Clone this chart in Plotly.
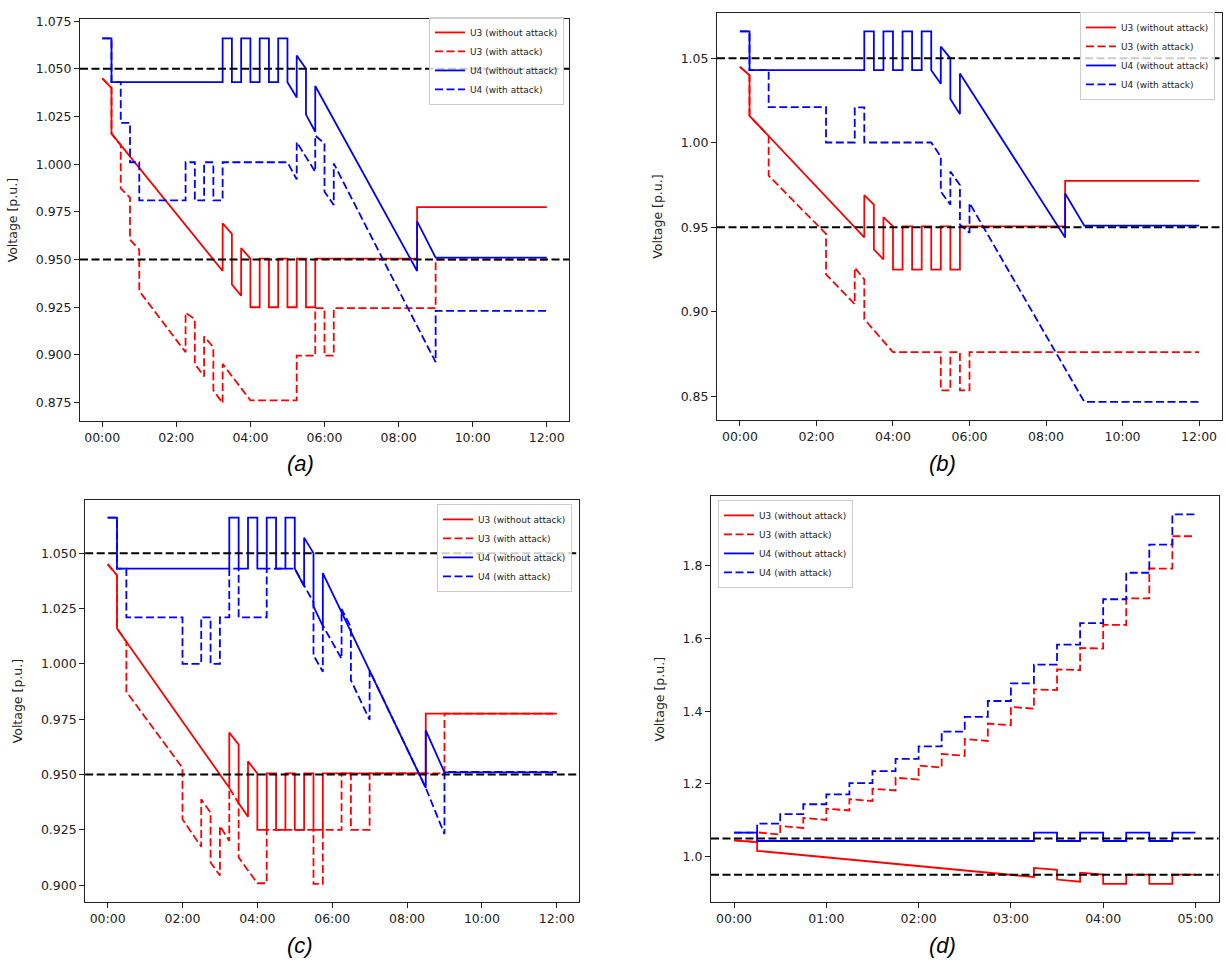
import plotly.graph_objects as go

# ---------------- data (time in hours since 00:00, voltage in p.u.) ----------------
# Without attack (same in panels a, b, c; panel d shows the first 5 h)
U3_base_t = [0, 0.25, 0.25, 3.25, 3.25, 3.5, 3.5, 3.75, 3.75, 4.0, 4.0, 4.25, 4.25, 4.5, 4.5,
             4.75, 4.75, 5.0, 5.0, 5.25, 5.25, 5.5, 5.5, 5.75, 5.75, 8.5, 8.5, 12]
U3_base_v = [1.045, 1.040, 1.016, 0.944, 0.969, 0.9635, 0.937, 0.931, 0.956, 0.9505, 0.925, 0.925,
             0.9505, 0.9505, 0.925, 0.925, 0.9505, 0.9505, 0.925, 0.925, 0.9505, 0.9505, 0.925, 0.925,
             0.9505, 0.9505, 0.9775, 0.9775]
U4_base_t = [0, 0.25, 0.25, 3.25, 3.25, 3.5, 3.5, 3.75, 3.75, 4.0, 4.0, 4.25, 4.25, 4.5, 4.5,
             4.75, 4.75, 5.0, 5.0, 5.25, 5.25, 5.5, 5.5, 5.75, 5.75, 8.5, 8.5, 9.0, 12]
U4_base_v = [1.066, 1.066, 1.043, 1.043, 1.066, 1.066, 1.043, 1.043, 1.066, 1.066, 1.043, 1.043,
             1.066, 1.066, 1.043, 1.043, 1.066, 1.066, 1.043, 1.035, 1.057, 1.050, 1.026, 1.017,
             1.041, 0.944, 0.970, 0.951, 0.951]

# Panel (a) with attack
U3_a_t = [0, 0.25, 0.25, 0.5, 0.5, 0.75, 0.75, 1.0, 1.0, 2.25, 2.25, 2.5, 2.5, 2.75, 2.75, 3.0, 3.0,
          3.25, 3.25, 4.0, 5.25, 5.25, 5.75, 5.75, 6.0, 6.0, 6.25, 6.25, 9.0, 9.0, 12]
U3_a_v = [1.045, 1.040, 1.016, 1.010, 0.9873, 0.9825, 0.9604, 0.9552, 0.9335, 0.9014, 0.9222, 0.9187,
          0.8953, 0.8887, 0.9097, 0.904, 0.8814, 0.8748, 0.8953, 0.8762, 0.8762, 0.8996, 0.8996,
          0.9245, 0.9245, 0.8996, 0.8996, 0.9245, 0.9245, 0.950, 0.950]
U4_a_t = [0, 0.25, 0.25, 0.5, 0.5, 0.75, 0.75, 1.0, 1.0, 2.25, 2.25, 2.5, 2.5, 2.75, 2.75, 3.0, 3.0,
          3.25, 3.25, 5.0, 5.25, 5.25, 5.75, 5.75, 6.0, 6.0, 6.25, 6.25, 9.0, 9.0, 12]
U4_a_v = [1.066, 1.066, 1.043, 1.043, 1.0217, 1.0217, 1.001, 1.001, 0.981, 0.981, 1.001, 1.001, 0.981,
          0.981, 1.001, 1.001, 0.981, 0.981, 1.001, 1.001, 0.992, 1.0116, 0.996, 1.015, 1.0108, 0.9856,
          0.9786, 1.0004, 0.8962, 0.9231, 0.9231]

# Panel (b) with attack
U3_b_t = [0, 0.25, 0.25, 0.75, 0.75, 2.25, 2.25, 3.0, 3.0, 3.25, 3.25, 4.0, 5.25, 5.25, 5.5, 5.5,
          5.75, 5.75, 6.0, 6.0, 12]
U3_b_v = [1.045, 1.040, 1.016, 1.004, 0.9806, 0.9461, 0.9222, 0.9045, 0.9261, 0.9192, 0.8957, 0.8761,
          0.8761, 0.8535, 0.8535, 0.8761, 0.8761, 0.8535, 0.8535, 0.8761, 0.8761]
U4_b_t = [0, 0.25, 0.25, 0.75, 0.75, 2.25, 2.25, 3.0, 3.0, 3.25, 3.25, 5.0, 5.25, 5.25, 5.5, 5.5,
          5.75, 5.75, 6.0, 6.0, 9.0, 12]
U4_b_v = [1.066, 1.066, 1.043, 1.043, 1.0212, 1.0212, 1.0002, 1.0002, 1.021, 1.021, 1.0002, 1.0002,
          0.9918, 0.9712, 0.9634, 0.983, 0.975, 0.9516, 0.9467, 0.9644, 0.8467, 0.8467]

# Panel (c) with attack
U3_c_t = [0, 0.25, 0.25, 0.5, 0.5, 2.0, 2.0, 2.5, 2.5, 2.75, 2.75, 3.0, 3.0, 3.25, 3.25, 3.5, 3.5,
          4.0, 4.25, 4.25, 5.5, 5.5, 5.75, 5.75, 6.25, 6.25, 6.5, 6.5, 7.0, 7.0, 9.0, 9.0, 12]
U3_c_v = [1.045, 1.040, 1.016, 1.010, 0.9874, 0.953, 0.9298, 0.9174, 0.9388, 0.9328, 0.9103, 0.9044,
          0.9268, 0.920, 0.944, 0.937, 0.9126, 0.9009, 0.9009, 0.925, 0.925, 0.9006, 0.9006, 0.925,
          0.925, 0.9505, 0.9505, 0.925, 0.925, 0.9505, 0.9505, 0.9775, 0.9775]
U4_c_t = [0, 0.25, 0.25, 0.5, 0.5, 2.0, 2.0, 2.5, 2.5, 2.75, 2.75, 3.0, 3.0, 3.25, 3.25, 3.5, 3.5,
          4.25, 4.25, 5.0, 5.5, 5.5, 5.75, 5.75, 6.25, 6.25, 6.5, 6.5, 7.0, 7.0, 8.5, 9.0, 9.0, 12]
U4_c_v = [1.066, 1.066, 1.043, 1.043, 1.021, 1.021, 1.000, 1.000, 1.021, 1.021, 1.000, 1.000, 1.021,
          1.021, 1.043, 1.043, 1.021, 1.021, 1.043, 1.043, 1.0278, 1.0039, 0.9964, 1.0173, 1.0023,
          1.0248, 1.0166, 0.9926, 0.9747, 0.997, 0.944, 0.9231, 0.9512, 0.9512]

# Panel (d) with attack: 15-min steps from 00:00 to 05:00
step_t = [0, 0.25, 0.5, 0.75, 1.0, 1.25, 1.5, 1.75, 2.0, 2.25, 2.5, 2.75, 3.0, 3.25, 3.5, 3.75,
          4.0, 4.25, 4.5, 4.75, 5.0]
U3_d_start = [1.045, 1.0667, 1.084, 1.1066, 1.132, 1.158, 1.187, 1.217, 1.2505, 1.2825, 1.3235,
              1.366, 1.4117, 1.460, 1.5147, 1.5738, 1.6377, 1.7104, 1.7923, 1.881]
U3_d_end = [1.040, 1.061, 1.079, 1.101, 1.127, 1.153, 1.182, 1.212, 1.245, 1.277, 1.318,
            1.361, 1.407, 1.458, 1.513, 1.572, 1.637, 1.710, 1.792, 1.881]
U4_d_step = [1.066, 1.091, 1.1167, 1.144, 1.171, 1.202, 1.235, 1.269, 1.303, 1.344, 1.3844,
             1.428, 1.4765, 1.528, 1.583, 1.642, 1.7077, 1.7806, 1.858, 1.941]

# limits and tick labels
V_MAX = 1.05
V_MIN = 0.95
ticks_12h = [0, 2, 4, 6, 8, 10, 12]
labels_12h = ["00:00", "02:00", "04:00", "06:00", "08:00", "10:00", "12:00"]
ticks_5h = [0, 1, 2, 3, 4, 5]
labels_5h = ["00:00", "01:00", "02:00", "03:00", "04:00", "05:00"]
names = ["U3 (without attack)", "U3 (with attack)", "U4 (without attack)", "U4 (with attack)"]
panel_labels = ["(a)", "(b)", "(c)", "(d)"]


def upto(ts, vs, tmax):
    ot, ov = [], []
    for t, v in zip(ts, vs):
        if t > tmax:
            break
        ot.append(t)
        ov.append(v)
        if t == tmax:
            break
    return ot, ov


def steps(bounds, starts, ends):
    ot, ov = [], []
    for i in range(len(starts)):
        ot += [bounds[i], bounds[i + 1]]
        ov += [starts[i], ends[i]]
    return ot, ov


W, H = 1227, 965
RED = "#ff0000"
BLUE = "#0000ff"
DASH = "8px,3.5px"
FONT = "DejaVu Sans"

fig = go.Figure()

u3b_d = upto(U3_base_t, U3_base_v, 5.0)
u4b_d = upto(U4_base_t, U4_base_v, 5.0)
u3a_d = steps(step_t, U3_d_start, U3_d_end)
u4a_d = steps(step_t, U4_d_step, U4_d_step)

panels = [
    ("x", "y", "legend", [(U3_base_t, U3_base_v), (U3_a_t, U3_a_v), (U4_base_t, U4_base_v), (U4_a_t, U4_a_v)]),
    ("x2", "y2", "legend2", [(U3_base_t, U3_base_v), (U3_b_t, U3_b_v), (U4_base_t, U4_base_v), (U4_b_t, U4_b_v)]),
    ("x3", "y3", "legend3", [(U3_base_t, U3_base_v), (U3_c_t, U3_c_v), (U4_base_t, U4_base_v), (U4_c_t, U4_c_v)]),
    ("x4", "y4", "legend4", [u3b_d, u3a_d, u4b_d, u4a_d]),
]
styles = [(RED, "solid"), (RED, DASH), (BLUE, "solid"), (BLUE, DASH)]

for xa, ya, lg, series in panels:
    for (ts, vs), (col, dash), nm in zip(series, styles, names):
        fig.add_trace(go.Scatter(x=ts, y=vs, mode="lines", name=nm, xaxis=xa, yaxis=ya, legend=lg,
                                 line=dict(color=col, width=1.8, dash=dash)))

# axes geometry (pixels -> paper)
def px_x(a, b):
    return [a / W, b / W]

def px_y(top, bottom):
    return [1 - bottom / H, 1 - top / H]

axis_common = dict(showline=True, linecolor="#222", linewidth=1, mirror=True, ticks="outside",
                   ticklen=5, tickwidth=1, tickcolor="#222", showgrid=False, zeroline=False,
                   tickfont=dict(family=FONT, size=12.5, color="#222"))
ytitle = dict(text="Voltage [p.u.]", font=dict(family=FONT, size=12.5, color="#222"))

fig.update_layout(
    xaxis=dict(domain=px_x(80, 569), range=[-0.6, 12.6], tickvals=ticks_12h, ticktext=labels_12h,
               anchor="y", **axis_common),
    yaxis=dict(domain=px_y(13.3, 417.7), range=[0.8653, 1.0760], tick0=0.875, dtick=0.025,
               tickformat=".3f", anchor="x", title=ytitle, **axis_common),
    xaxis2=dict(domain=px_x(717, 1222), range=[-0.6, 12.6], tickvals=ticks_12h, ticktext=labels_12h,
                anchor="y2", **axis_common),
    yaxis2=dict(domain=px_y(6.8, 417), range=[0.8357, 1.077], tick0=0.85, dtick=0.05,
                tickformat=".2f", anchor="x2", title=ytitle, **axis_common),
    xaxis3=dict(domain=px_x(85.2, 579.2), range=[-0.6, 12.6], tickvals=ticks_12h, ticktext=labels_12h,
                anchor="y3", **axis_common),
    yaxis3=dict(domain=px_y(497.3, 901.7), range=[0.8924, 1.0739], tick0=0.9, dtick=0.025,
                tickformat=".3f", anchor="x3", title=ytitle, **axis_common),
    xaxis4=dict(domain=px_x(711, 1218.5), range=[-0.25, 5.25], tickvals=ticks_5h, ticktext=labels_5h,
                anchor="y4", **axis_common),
    yaxis4=dict(domain=px_y(493.3, 901.7), range=[0.875, 1.991], tick0=1.0, dtick=0.2,
                tickformat=".1f", anchor="x4", title=ytitle, **axis_common),
)

# reference limits
shapes = []
for xa, ya in [("x", "y"), ("x2", "y2"), ("x3", "y3"), ("x4", "y4")]:
    for lim in (V_MAX, V_MIN):
        shapes.append(dict(type="line", xref=xa + " domain", yref=ya, x0=0, x1=1, y0=lim, y1=lim,
                           line=dict(color="black", width=2, dash=DASH), layer="above"))

legend_common = dict(bgcolor="rgba(255,255,255,0.8)", bordercolor="#cccccc", borderwidth=1,
                     font=dict(family=FONT, size=9, color="#222"), tracegroupgap=0, itemwidth=30)

annotations = []
for lab, (ax, ay) in zip(panel_labels, [(300, 460), (942, 460), (300, 945), (942, 945)]):
    annotations.append(dict(text="<i>" + lab + "</i>", x=ax / W, y=1 - ay / H, xref="paper", yref="paper",
                            showarrow=False, xanchor="center", yanchor="middle",
                            font=dict(family="Liberation Sans", size=22, color="black")))

fig.update_layout(
    width=W, height=H, autosize=False,
    margin=dict(l=0, r=0, t=0, b=0),
    paper_bgcolor="white", plot_bgcolor="white",
    shapes=shapes, annotations=annotations,
    legend=dict(x=564 / W, y=1 - 11 / H, xanchor="right", yanchor="top", **legend_common),
    legend2=dict(x=1215 / W, y=1 - 6 / H, xanchor="right", yanchor="top", **legend_common),
    legend3=dict(x=572 / W, y=1 - 501 / H, xanchor="right", yanchor="top", **legend_common),
    legend4=dict(x=718 / W, y=1 - 497 / H, xanchor="left", yanchor="top", **legend_common),
)

fig.write_html("out.html", config={"displayModeBar": False},
               post_script="document.body.style.margin='0px';")
